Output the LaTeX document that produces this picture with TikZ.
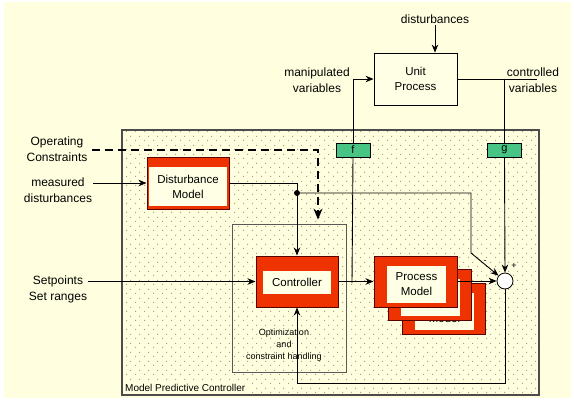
\documentclass[tikz,border=0pt]{standalone}
\usepackage{fontspec}
\setmainfont{Liberation Sans}
\usetikzlibrary{arrows.meta,patterns}

\definecolor{bgyellow}{HTML}{FFFFE0}
\definecolor{cream}{HTML}{FFFFE6}
\definecolor{mpcred}{HTML}{EE3300}
\definecolor{mpcgreen}{HTML}{48C484}
\definecolor{dotgray}{HTML}{A8A088}

% motif de points du cadre MPC
\pgfdeclarepatternformonly{mpcdots}{\pgfpointorigin}{\pgfpoint{9pt}{9pt}}{\pgfpoint{9pt}{9pt}}{
    \pgfpathrectangle{\pgfpoint{0pt}{0pt}}{\pgfpoint{1.3pt}{1.3pt}}
    \pgfpathrectangle{\pgfpoint{4.5pt}{4.5pt}}{\pgfpoint{1.3pt}{1.3pt}}
    \pgfusepath{fill}
}

\begin{document}
\begin{tikzpicture}[x=1pt, y=-1pt, >={Stealth[length=8pt,width=6.5pt,inset=2.5pt]}]
        % --- Styles ---
        \tikzset{
            lbl/.style={font=\fontsize{12}{16}\selectfont, align=center, inner sep=1pt},
            small_lbl/.style={font=\fontsize{9}{12}\selectfont, align=center},
            mpc_frame/.style={draw=gray!60!black, line width=1.1pt, pattern=mpcdots, pattern color=dotgray},
            opt_frame/.style={draw=gray!70!black, line width=0.8pt},
            red_box/.style={draw=red!35!black, fill=mpcred, line width=1pt, inner sep=0pt,
                minimum width=82pt, minimum height=51pt},
            cream_box/.style={fill=cream, inner sep=0pt, align=center, font=\fontsize{11.5}{15}\selectfont},
            green_box/.style={draw=black, fill=mpcgreen, line width=0.6pt, minimum width=34pt,
                minimum height=14pt, inner sep=0pt, font=\fontsize{11}{12}\selectfont},
            plain_box/.style={draw=black, fill=cream, line width=0.8pt, minimum width=83pt,
                minimum height=52pt, align=center, font=\fontsize{11.5}{15}\selectfont},
            wire/.style={draw=black, line width=0.9pt},
            arr/.style={wire, ->},
            dashline/.style={draw=black, line width=2pt, dash pattern=on 8pt off 5pt}
        }

        \useasboundingbox (0,0) rectangle (574,402);
        \fill[bgyellow] (4,2) rectangle (571,398);

        % =====================================================================
        % CADRE : MODEL PREDICTIVE CONTROLLER
        % =====================================================================
        \path[mpc_frame, draw=none] (122,130) rectangle (539,395);
        \node[font=\fontsize{10}{12}\selectfont, fill=bgyellow, anchor=south west, inner sep=3pt]
            (mpclabel) at (122,395) {Model Predictive Controller};
        \draw[draw=gray!60!black, line width=1.1pt] (122,130) rectangle (539,395);

        % Boite optimisation
        \node[opt_frame, minimum width=114pt, minimum height=148pt, inner sep=0pt] (opt) at (289,298) {};
        \node[small_lbl] (optlabel) at (284,345) {Optimization\\and\\constraint handling};

        % Controller
        \node[red_box] (ctrl) at (297,281.5) {};
        \node[cream_box, minimum width=68pt, minimum height=23pt] (ctrltext) at (297,282.5) {Controller};

        % Disturbance Model
        \node[red_box, minimum height=52pt] (dm) at (188,183) {};
        \node[cream_box, minimum width=78pt, minimum height=39pt] (dmtext) at (188,186.5) {Disturbance\\Model};

        % Process Model (pile de trois)
        \foreach \k/\dx/\dy in {2/28/27, 1/14/13, 0/0/0} {
            \node[red_box, minimum width=83pt] (pm\k) at (415.5+\dx,281.5+\dy) {};
            \node[cream_box, minimum width=59pt, minimum height=37pt] (pmtext\k) at (416.5+\dx,284.5+\dy) {Process\\Model};
        }

        % Jonction sommatrice
        \node[circle, draw=black, fill=white, line width=0.8pt, minimum size=16pt, inner sep=0pt] (sum) at (505,281) {};
        \node[font=\fontsize{9}{10}\selectfont] (plus) at (514,266) {+};
        \node[font=\fontsize{9}{10}\selectfont] (minus) at (485,262) {-};

        % Blocs f et g
        \node[green_box] (fbox) at (353,150) {f};
        \node[green_box] (gbox) at (504.5,150) {g};

        % =====================================================================
        % PROCEDE
        % =====================================================================
        \node[plain_box] (up) at (415.5,79) {Unit\\Process};
        \node[lbl] (dist) at (435,19) {disturbances};
        \node[lbl] (mv) at (317,80) {manipulated\\variables};
        \node[lbl] (cv) at (533,80) {controlled\\variables};

        % Entrees
        \node[lbl] (oc) at (57,149) {Operating\\Constraints};
        \node[lbl] (md) at (58,190) {measured\\disturbances};
        \node[lbl] (sp) at (58,289) {Setpoints\\Set ranges};

        % Points de passage
        \coordinate (ocbend) at (318,150);
        \coordinate (jn) at (297,193);
        \coordinate (dk1) at (471,193);
        \coordinate (dk2) at (471,253);
        \coordinate (fb) at (352,283);
        \coordinate (cvend) at (537,79);
        \coordinate (fbk) at (297,383);

        % =====================================================================
        % LIAISONS
        % =====================================================================
        \draw[arr] (dist.south) -- (dist.south |- up.north);
        \draw[arr] (sp.east |- ctrl.west) -- (ctrl.west);
        \draw[arr] (md.east |- dm.west) -- (dm.west);
        \draw[dashline, -{Stealth[length=11pt,width=9pt,inset=3.5pt]}]
            ([xshift=3pt]oc.east |- ocbend) -- (ocbend) -- ([yshift=4pt]ocbend |- opt.north);
        \draw[wire] (dm.east) -| (jn);
        \fill (jn) circle (3pt);
        \draw[arr] (jn) -- (ctrl.north);
        \draw[arr] (jn) -- (dk1) -- (dk2) -- (sum);
        \draw[arr] (ctrl.east) -- (pm0.west);
        \draw[wire] (fb) -- (fbox.south);
        \draw[arr] (fbox.north) |- (up.west);
        \draw[wire] (up.east) -- (cvend);
        \draw[wire] (gbox.north |- up.east) -- (gbox.north);
        \draw[arr] (gbox.south) -- (sum.north);
        \draw[arr] (pm0.east |- sum.west) -- (sum.west);
        \draw[arr] (sum.south) |- (fbk) -- (ctrl.south);

\end{tikzpicture}
\end{document}
